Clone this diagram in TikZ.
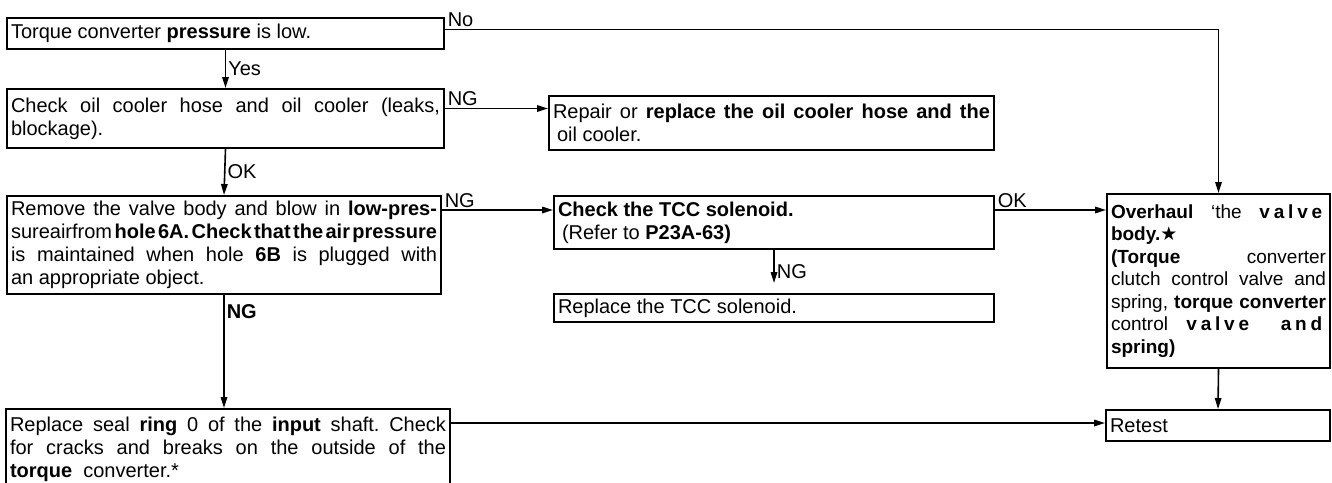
\documentclass[tikz,border=0pt]{standalone}
\usepackage{fontspec}
\setmainfont{Liberation Sans}
\newfontfamily\symfont{DejaVu Sans}
\usepackage{tikz}
\usetikzlibrary{arrows.meta,positioning}
\setlength{\parindent}{0pt}
\frenchspacing

\tikzset{
  stepbox/.style={draw, line width=2pt, anchor=north west, inner xsep=4pt, inner ysep=2pt,
    align=justify, font=\fontsize{20}{23}\selectfont},
  flow/.style={line width=1.6pt, -{Triangle[length=11pt,width=6.5pt]}},
  tag/.style={font=\fontsize{20}{23}\selectfont, inner sep=2pt}
}
\newcommand{\spaced}[1]{{\addfontfeature{LetterSpace=20}#1}}

\begin{document}
\begin{tikzpicture}[x=1pt,y=-1pt]
        \useasboundingbox (0,0) rectangle (1332,482);

        % Left column
        \node[stepbox, text width=429pt, minimum height=31pt] (low) at (6,17)
          {Torque converter \textbf{pressure} is low.};
        \node[stepbox, text width=429pt, minimum height=59pt] (cooler) at (6,88)
          {Check oil cooler hose and oil cooler (leaks,\linebreak blockage).};
        \node[stepbox, text width=426pt, minimum height=98pt] (valve) at (6,195)
          {Remove the valve body and blow in \textbf{low-pres-}\linebreak
           {\spaceskip=1.5pt plus 4pt sureairfrom \textbf{hole 6A. Check that the air pressure}}\linebreak
           is maintained when hole \textbf{6B} is plugged with\linebreak
           an appropriate object.};
        \node[stepbox, text width=436pt, minimum height=80pt] (seal) at (5,408)
          {Replace seal \textbf{ring} 0 of the \textbf{input} shaft. Check\linebreak
           for cracks and breaks on the outside of the\linebreak
           \textbf{torque}\ \ converter.*};

        % Middle column
        \node[stepbox, text width=437pt, minimum height=54pt] (repair) at (548,95)
          {Repair or \textbf{replace the oil cooler hose and the}\linebreak
           \hspace*{4pt}oil cooler.};
        \node[stepbox, text width=432pt, minimum height=53pt] (tcc) at (553,195)
          {\textbf{Check the TCC solenoid.}\par
           \hspace*{4pt}(Refer to \textbf{P23A-63)}};
        \node[stepbox, text width=432pt, minimum height=28pt] (replace) at (553,293)
          {Replace the TCC solenoid.};

        % Right column
        \node[stepbox, text width=215pt, minimum height=174pt, font=\fontsize{19}{22.5}\selectfont] (overhaul) at (1106,193)
          {\textbf{Overhaul} `the \textbf{\spaced{valve}}\linebreak
           \textbf{body.}{\symfont\bfseries ★}\par
           \textbf{(Torque} converter\linebreak
           clutch control valve and\linebreak
           {\spaceskip=2pt plus 3pt spring, \textbf{torque converter}}\linebreak
           control \textbf{\spaced{valve and}}\linebreak
           \textbf{spring)}};
        \node[stepbox, text width=216pt, minimum height=31pt] (retest) at (1105,409) {Retest};

        % Connectors
        \draw[flow] (low.south) -- node[tag, right] {Yes} (cooler.north);
        \draw[flow] ([yshift=4pt]low.east) node[tag, anchor=south west] {No}
          -| (overhaul.north);
        \draw[flow] (cooler.south) -- node[tag, right] {OK} (valve.north);
        \draw[flow] ([yshift=10pt]cooler.east) node[tag, anchor=south west] {NG}
          -- ([yshift=10pt]cooler.east -| repair.west);
        \draw[flow] ([yshift=-15pt]valve.north east) node[tag, anchor=south west] {NG}
          -- ([yshift=-15pt]valve.north east -| tcc.west);
        \draw[flow] ([yshift=-15pt]tcc.north east) node[tag, anchor=south west] {OK}
          -- ([yshift=-15pt]tcc.north east -| overhaul.west);
        \draw[flow, shorten >=10pt] (tcc.south) -- node[tag, right] {NG} (replace.north);
        \draw[flow] (valve.south) -- node[tag, pos=0.06, anchor=north west] {\bfseries NG}
          (valve.south |- seal.north);
        \draw[flow] ([yshift=-15pt]seal.north east) -- ([yshift=-15pt]seal.north east -| retest.west);
        \draw[flow] (overhaul.south) -- (retest.north);

    \end{tikzpicture}
\end{document}
